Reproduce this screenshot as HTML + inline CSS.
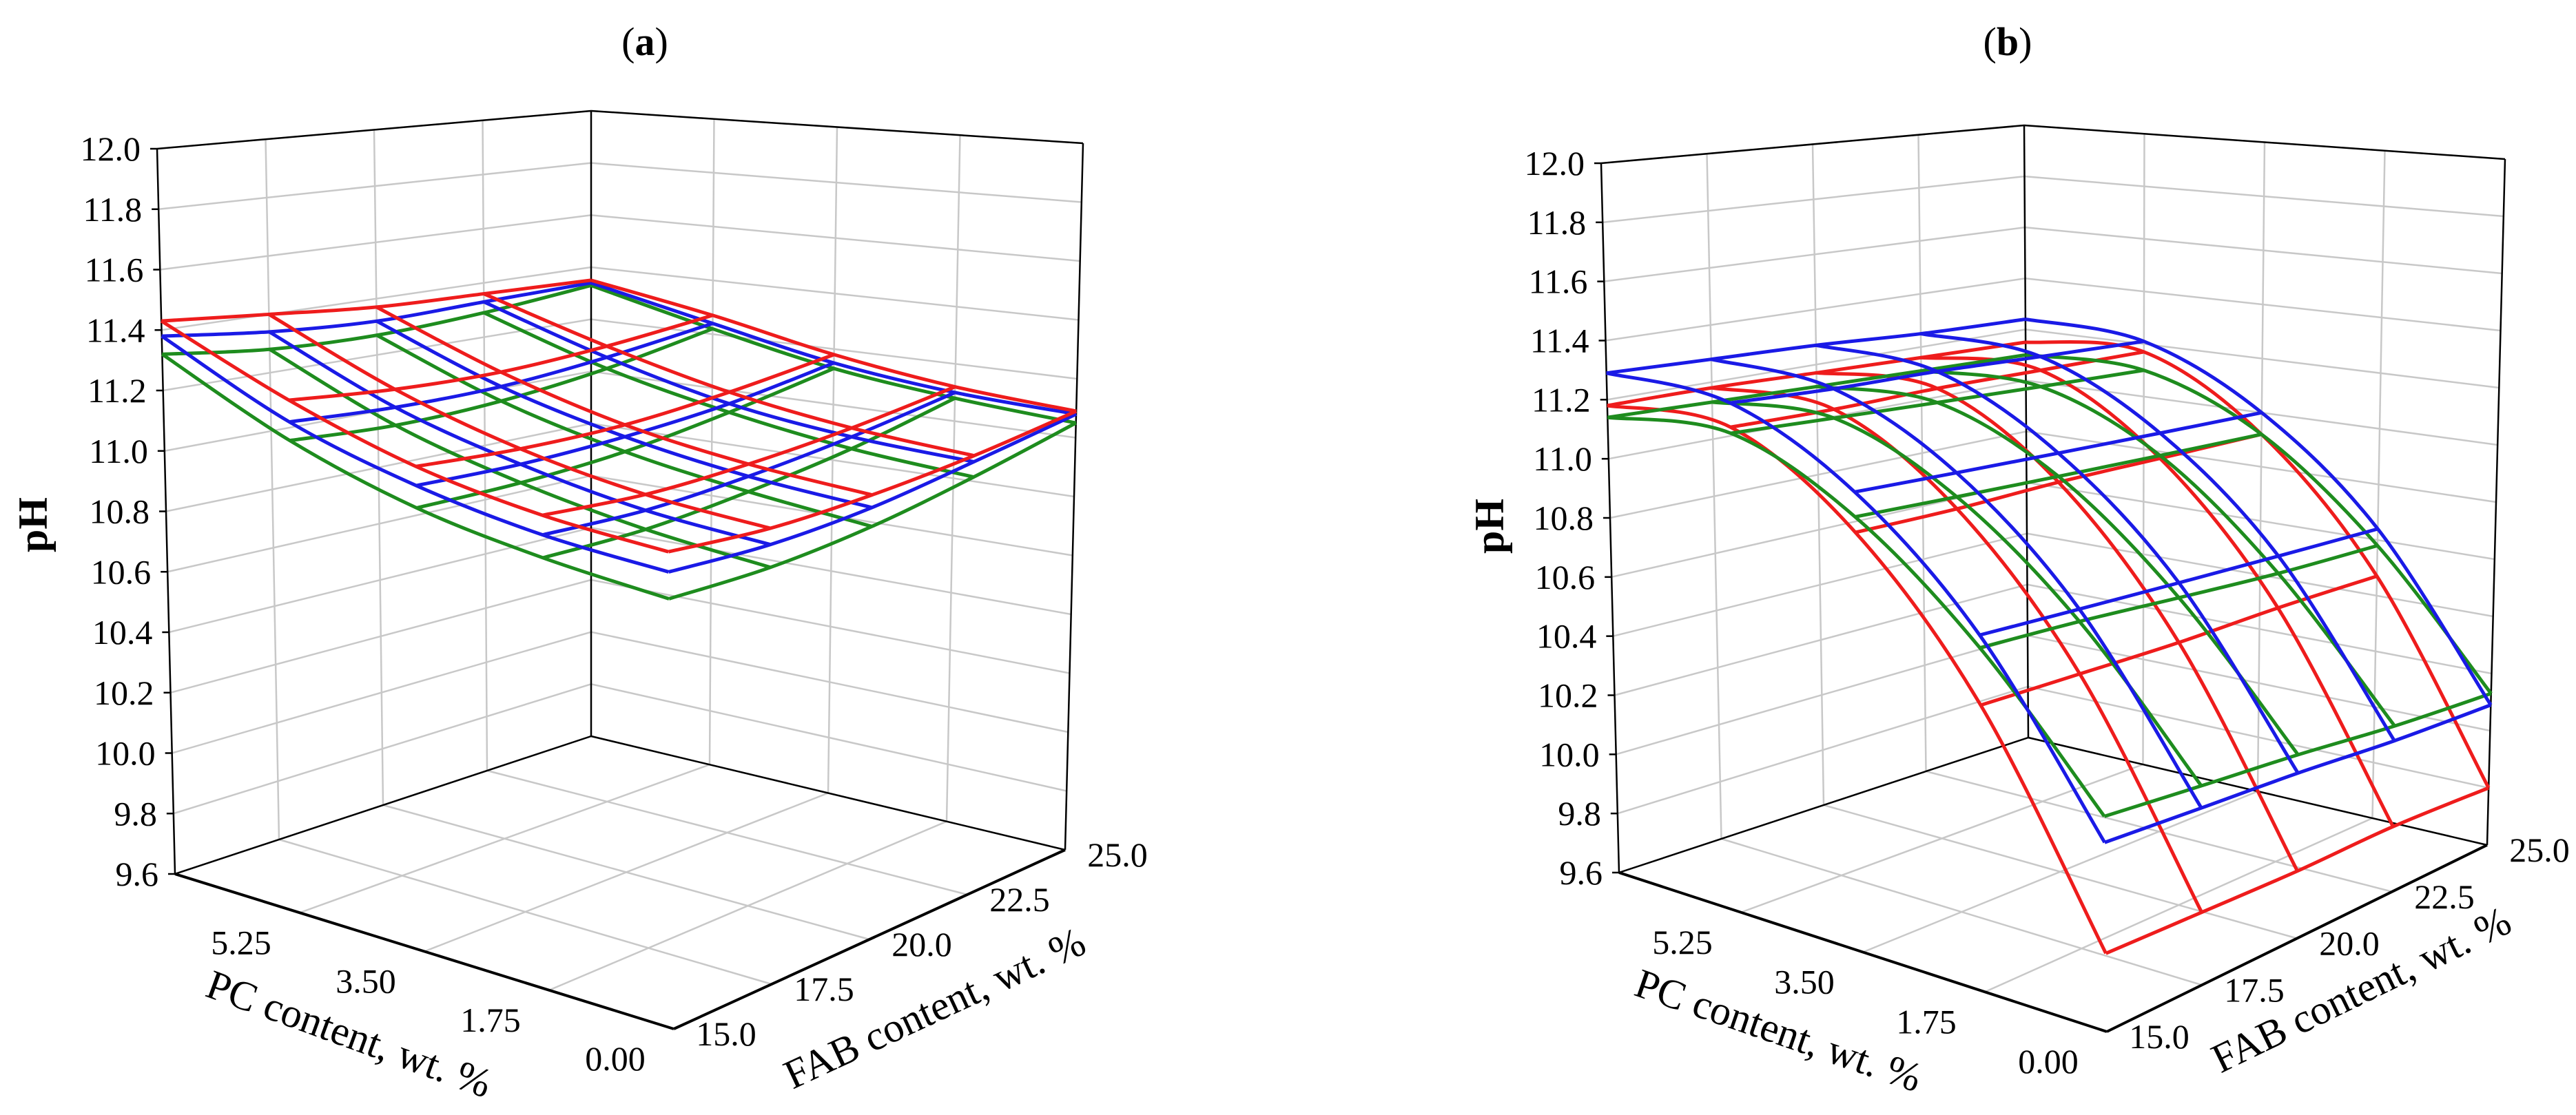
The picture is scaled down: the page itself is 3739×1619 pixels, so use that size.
<!DOCTYPE html>
<html><head><meta charset="utf-8"><style>
html,body{margin:0;padding:0;background:#fff;}
svg{display:block;}
text{font-family:"Liberation Serif",serif;fill:#000;}
</style></head><body>
<svg id="chart" width="3739" height="1619" viewBox="0 0 3739 1619" xmlns="http://www.w3.org/2000/svg">
<text x="936" y="80" font-size="58" text-anchor="middle">(<tspan font-weight="bold">a</tspan>)</text>
<text x="2914" y="80" font-size="58" text-anchor="middle">(<tspan font-weight="bold">b</tspan>)</text>
<g id="pa"></g>
<g id="pb"></g>
</svg>
<script>
// Data
const pcNodes=[0,1.75,3.5,5.25,7];
const fabNodes=[15,17.5,20,22.5,25];
const phTicks=[9.6,9.8,10.0,10.2,10.4,10.6,10.8,11.0,11.2,11.4,11.6,11.8,12.0];
const pcTickLabels=["0.00","1.75","3.50","5.25"];
const pcTickValues=[0,1.75,3.5,5.25];
const fabTickLabels=["15.0","17.5","20.0","22.5","25.0"];
const fabTickValues=[15,17.5,20,22.5,25];
// rows: PC 0..7, cols: FAB 15..25
const aGreen=[[10.88,10.88,10.91,10.97,11.05],[10.92,10.92,10.95,11.00,11.08],[10.99,10.99,11.01,11.06,11.13],[11.12,11.10,11.11,11.15,11.22],[11.32,11.28,11.27,11.29,11.33]];
const aBlue=[[10.96,10.95,10.97,11.02,11.08],[10.99,10.98,11.00,11.04,11.10],[11.06,11.05,11.06,11.09,11.15],[11.18,11.16,11.16,11.19,11.24],[11.38,11.34,11.32,11.33,11.34]];
const aRed=[[11.02,11.00,11.01,11.04,11.09],[11.05,11.03,11.04,11.07,11.12],[11.12,11.10,11.10,11.13,11.18],[11.25,11.22,11.21,11.23,11.27],[11.43,11.40,11.37,11.36,11.35]];
const bRed=[[9.84,9.83,9.82,9.82,9.80],[10.50,10.49,10.48,10.48,10.47],[10.95,10.94,10.94,10.93,10.92],[11.20,11.19,11.19,11.18,11.17],[11.18,11.18,11.17,11.16,11.15]];
const bGreen=[[10.26,10.23,10.20,10.16,10.13],[10.68,10.66,10.63,10.60,10.58],[11.00,10.98,10.96,10.94,10.92],[11.18,11.16,11.14,11.12,11.10],[11.14,11.13,11.12,11.11,11.10]];
const bBlue=[[10.18,10.16,10.14,10.11,10.09],[10.72,10.70,10.68,10.66,10.64],[11.08,11.06,11.04,11.02,11.00],[11.28,11.26,11.25,11.23,11.21],[11.29,11.28,11.27,11.25,11.24]];

const NS="http://www.w3.org/2000/svg";
function mk(parent,tag,attrs){const e=document.createElementNS(NS,tag);for(const k in attrs)e.setAttribute(k,attrs[k]);parent.appendChild(e);return e;}

function panel(g,geo,series,tag){
  // corners: F(pc0,fab15) L(pc7,fab15) R(pc0,fab25) B(pc7,fab25); bottom & top
  function bil(c,p,q){return [
    c.F[0]*(1-p)*(1-q)+c.L[0]*p*(1-q)+c.R[0]*(1-p)*q+c.B[0]*p*q,
    c.F[1]*(1-p)*(1-q)+c.L[1]*p*(1-q)+c.R[1]*(1-p)*q+c.B[1]*p*q];}
  function P(pc,fab,ph){const p=pc/7,q=(fab-15)/10,t=(ph-9.6)/2.4;
    const b=bil(geo.bot,p,q),u=bil(geo.top,p,q);return [b[0]+(u[0]-b[0])*t,b[1]+(u[1]-b[1])*t];}
  const line=(a,b,st,w,name)=>{const e=mk(g,'line',{x1:a[0],y1:a[1],x2:b[0],y2:b[1],stroke:st,'stroke-width':w});
    
    return e;};
  const grid='#c8c8c8';
  // wall horizontal gridlines
  phTicks.forEach(v=>{
    line(P(7,15,v),P(7,25,v),grid,2.5,'grid-line');
    line(P(7,25,v),P(0,25,v),grid,2.5,'grid-line');
  });
  // wall vertical gridlines and floor grid
  [17.5,20,22.5].forEach(f=>{line(P(7,f,9.6),P(7,f,12),grid,2.5,'grid-line');line(P(7,f,9.6),P(0,f,9.6),grid,2.5,'grid-line');});
  [1.75,3.5,5.25].forEach(c=>{line(P(c,25,9.6),P(c,25,12),grid,2.5,'grid-line');line(P(c,15,9.6),P(c,25,9.6),grid,2.5,'grid-line');});
  // box edges
  line(P(7,15,9.6),P(7,15,12),'#000',2.5,'ph-axis');
  line(P(7,25,9.6),P(7,25,12),'#000',2.5,'back-edge');
  line(P(0,25,9.6),P(0,25,12),'#000',2.5,'right-edge');
  line(P(7,15,12),P(7,25,12),'#000',2.5,'top-edge');
  line(P(7,25,12),P(0,25,12),'#000',2.5,'top-edge');
  line(P(7,15,9.6),P(7,25,9.6),'#000',2.5,'floor-edge');
  line(P(7,25,9.6),P(0,25,9.6),'#000',2.5,'floor-edge');
  line(P(7,15,9.6),P(0,15,9.6),'#000',4,'pc-axis');
  line(P(0,15,9.6),P(0,25,9.6),'#000',4,'fab-axis');
  // pH ticks
  phTicks.forEach(v=>{const a=P(7,15,v);
    line(a,[a[0]-10,a[1]],'#000',2.5,'ph-tick');
    const t=mk(g,'text',{x:a[0]-24,y:a[1]+17,'font-size':50,'text-anchor':'end'});
    
    
    t.textContent=v.toFixed(1);});
  pcTickValues.forEach((v,i)=>{const a=P(v,15,9.6);
    const t=mk(g,'text',{x:a[0]-85,y:a[1]+60,'font-size':50,'text-anchor':'middle'});
    
    
    t.textContent=pcTickLabels[i];});
  fabTickValues.forEach((v,i)=>{const a=P(0,v,9.6);
    const t=mk(g,'text',{x:a[0]+76,y:a[1]+24,'font-size':50,'text-anchor':'middle'});
    
    
    t.textContent=fabTickLabels[i];});
  // axis titles
  let t=mk(g,'text',{x:0,y:0,'font-size':60,'font-weight':'bold','text-anchor':'middle',transform:`translate(${geo.phT[0]},${geo.phT[1]}) rotate(-90)`});
  
  
  t.textContent='pH';
  t=mk(g,'text',{x:0,y:0,'font-size':60,'text-anchor':'middle',transform:`translate(${geo.pcT[0]},${geo.pcT[1]}) rotate(${geo.pcT[2]})`});
  
  
  t.textContent='PC content, wt. %';
  t=mk(g,'text',{x:0,y:0,'font-size':60,'text-anchor':'middle',transform:`translate(${geo.fabT[0]},${geo.fabT[1]}) rotate(${geo.fabT[2]})`});
  
  
  t.textContent='FAB content, wt. %';
  // surfaces
  function smooth(pts){let d=`M${pts[0][0]},${pts[0][1]}`;
    for(let i=0;i<pts.length-1;i++){const p0=pts[Math.max(0,i-1)],p1=pts[i],p2=pts[i+1],p3=pts[Math.min(pts.length-1,i+2)];
      const c1=[p1[0]+(p2[0]-p0[0])/6,p1[1]+(p2[1]-p0[1])/6],c2=[p2[0]-(p3[0]-p1[0])/6,p2[1]-(p3[1]-p1[1])/6];
      d+=` C${c1[0]},${c1[1]} ${c2[0]},${c2[1]} ${p2[0]},${p2[1]}`;}return d;}
  series.forEach(s=>{
    const sg=mk(g,'g',{});
    
    
    s.data.forEach((row,i)=>{const pts=row.map((v,j)=>P(pcNodes[i],fabNodes[j],v));
      const e=mk(sg,'path',{d:smooth(pts),fill:'none',stroke:s.color,'stroke-width':5});
      
      });
    fabNodes.forEach((f,j)=>{const pts=pcNodes.map((c,i)=>P(c,f,s.data[i][j]));
      const e=mk(sg,'path',{d:smooth(pts),fill:'none',stroke:s.color,'stroke-width':5});
      
      });
  });
}
const geoA={bot:{F:[978,1494],L:[254,1269],R:[1546,1234],B:[858,1069]},top:{F:[965,323],L:[228,216],R:[1572,208],B:[858,161]},
  phT:[68,762],pcT:[500,1520,20],fabT:[1365,1482,-25]};
const geoB={bot:{F:[3058,1498],L:[2350,1267],R:[3610,1227],B:[2944,1071]},top:{F:[3045,361],L:[2324,237],R:[3636,231],B:[2938,182]},
  phT:[2182,764],pcT:[2575,1515,19],fabT:[3436,1455,-26]};
panel(document.getElementById('pa'),geoA,[{name:'green',color:'#1e8c1e',data:aGreen},{name:'blue',color:'#1a1ae6',data:aBlue},{name:'red',color:'#ee1c1c',data:aRed}],'a');
panel(document.getElementById('pb'),geoB,[{name:'red',color:'#ee1c1c',data:bRed},{name:'green',color:'#1e8c1e',data:bGreen},{name:'blue',color:'#1a1ae6',data:bBlue}],'b');
</script>
</body></html>
